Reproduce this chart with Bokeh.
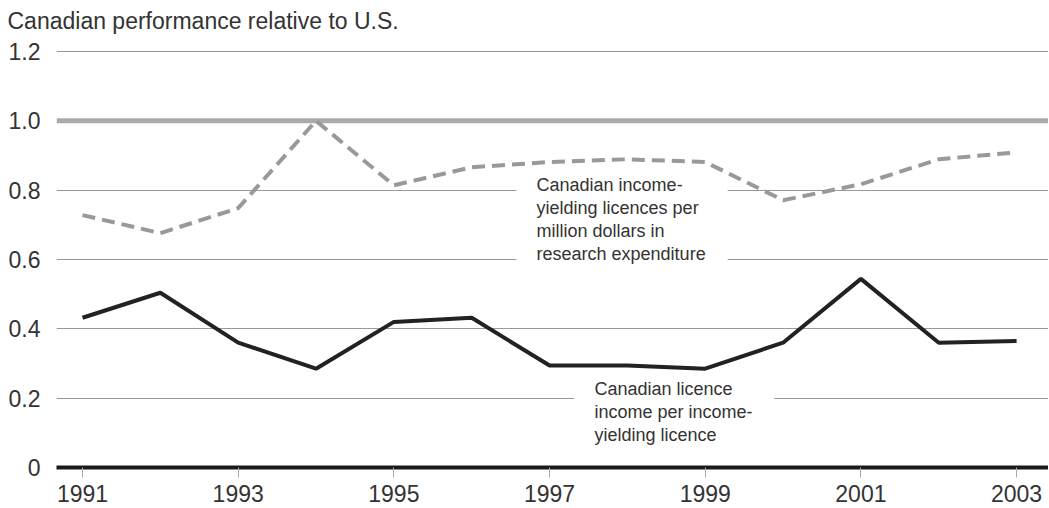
from bokeh.plotting import figure
from bokeh.models import FixedTicker, Span, Label, Range1d
from bokeh.embed import file_html
from bokeh.resources import INLINE

years = list(range(1991, 2004))
licences_per_million = [0.728, 0.676, 0.748, 1.0, 0.814, 0.866, 0.881, 0.889, 0.881, 0.771, 0.817, 0.889, 0.909]
income_per_licence = [0.432, 0.504, 0.360, 0.285, 0.420, 0.432, 0.294, 0.294, 0.285, 0.360, 0.544, 0.360, 0.365]
x_ticks = [1991, 1993, 1995, 1997, 1999, 2001, 2003]
y_ticks = [0, 0.2, 0.4, 0.6, 0.8, 1.0, 1.2]
y_labels = {0: "0", 0.2: "0.2", 0.4: "0.4", 0.6: "0.6", 0.8: "0.8", 1.0: "1.0", 1.2: "1.2"}
title_text = "Canadian performance relative to U.S."
label_dashed = "Canadian income-\nyielding licences per\nmillion dollars in\nresearch expenditure"
label_solid = "Canadian licence\nincome per income-\nyielding licence"

FONT = "Liberation Sans"
TXT = "#333333"

p = figure(width=1048, height=508, output_backend="svg", toolbar_location=None,
           x_range=Range1d(1990.666, 2003.41), y_range=Range1d(0, 1.2345),
           min_border_left=56, min_border_right=0, min_border_top=38, min_border_bottom=41)
p.outline_line_color = None
p.background_fill_color = "white"

p.title.text = title_text
p.title.text_font = FONT
p.title.text_font_size = "23px"
p.title.text_font_style = "normal"
p.title.text_color = TXT
p.title.align = "left"
p.title.offset = -49
p.title.standoff = 11

# axes
p.xaxis.ticker = FixedTicker(ticks=x_ticks)
p.xaxis.axis_line_color = "#1a1a1a"
p.xaxis.axis_line_width = 4
p.xaxis.major_tick_line_color = "#aaaaaa"
p.xaxis.major_tick_out = 10
p.xaxis.major_tick_in = 0
p.xaxis.minor_tick_line_color = None
p.xaxis.major_label_text_font = FONT
p.xaxis.major_label_text_font_size = "23px"
p.xaxis.major_label_text_color = TXT
p.xaxis.major_label_standoff = 7

p.yaxis.ticker = FixedTicker(ticks=y_ticks)
p.yaxis.major_label_overrides = y_labels
p.yaxis.axis_line_color = None
p.yaxis.major_tick_line_color = None
p.yaxis.minor_tick_line_color = None
p.yaxis.major_label_text_font = FONT
p.yaxis.major_label_text_font_size = "23px"
p.yaxis.major_label_text_color = TXT
p.yaxis.major_label_standoff = 10

p.xgrid.grid_line_color = None
p.ygrid.ticker = FixedTicker(ticks=[0.2, 0.4, 0.6, 0.8, 1.2])
p.ygrid.grid_line_color = "#999999"
p.ygrid.grid_line_width = 1

p.add_layout(Span(location=1.0, dimension="width", line_color="#aaaaaa", line_width=5, level="underlay"))

p.line(years, licences_per_million, line_color="#999999", line_width=4, line_dash="13 7")
p.line(years, income_per_licence, line_color="#222222", line_width=4)

p.add_layout(Label(x=1996.576, y=0.843, text=label_dashed, text_font=FONT, text_font_size="18px",
                   text_color=TXT, text_baseline="top", text_align="left", text_line_height=1.15,
                   background_fill_color="white", padding=dict(left=20, right=22, top=0, bottom=0)))
p.add_layout(Label(x=1997.32, y=0.256, text=label_solid, text_font=FONT, text_font_size="18px",
                   text_color=TXT, text_baseline="top", text_align="left", text_line_height=1.15,
                   background_fill_color="white", padding=dict(left=20, right=22, top=0, bottom=0)))

open("out.html", "w").write(file_html(p, INLINE))
